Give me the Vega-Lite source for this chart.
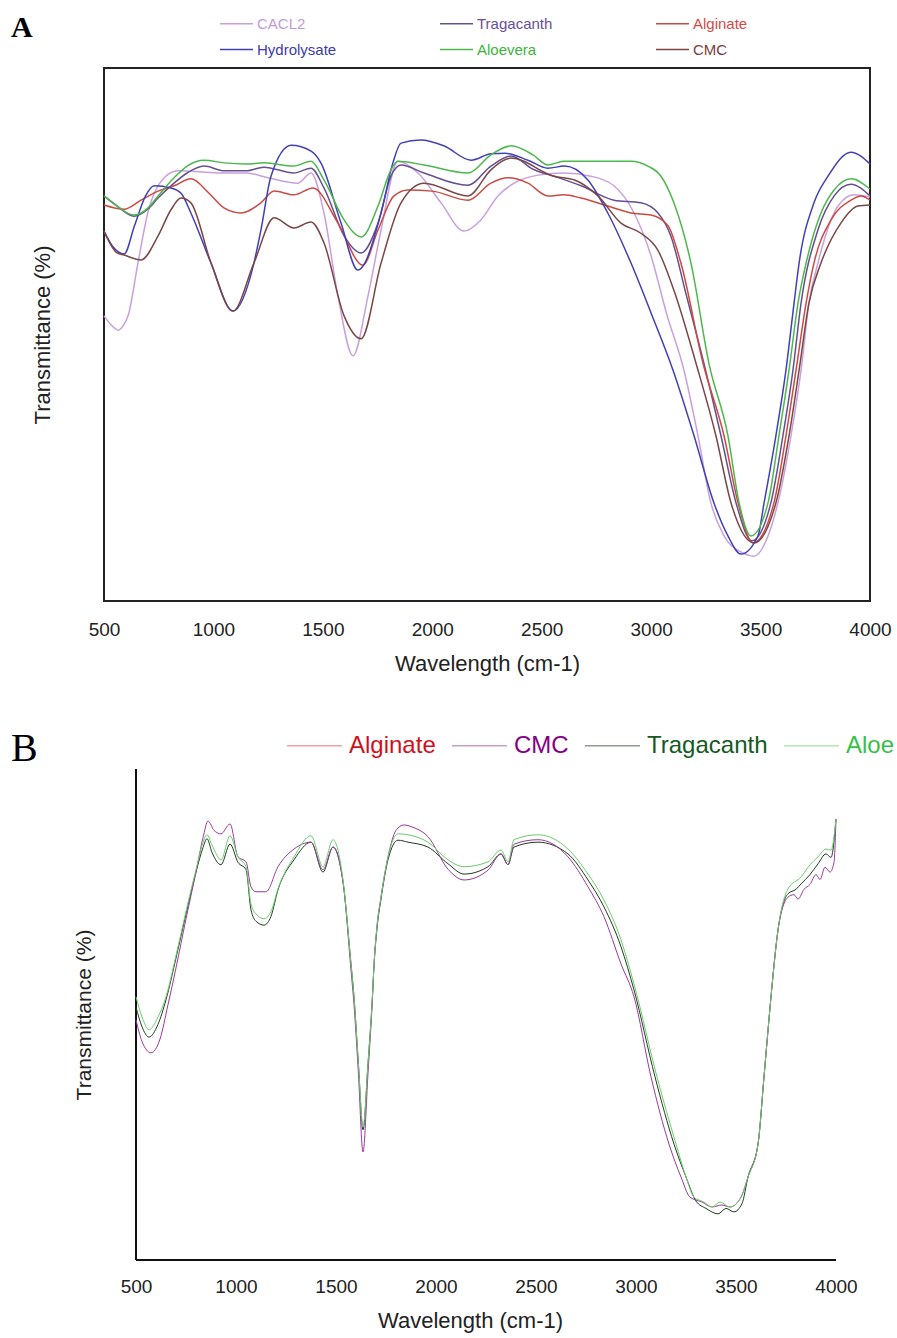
{
"$schema":"https://vega.github.io/schema/vega-lite/v6.json",
"padding":{"left":10,"top":5,"right":0,"bottom":7},
"config":{"view":{"stroke":null},"font":"Liberation Sans","axis":{"grid":false}},
"datasets":{
"a":[
{"series":"CACL2","wavenumber":500,"transmittance":53.5},{"series":"CACL2","wavenumber":540,"transmittance":51.5},{"series":"CACL2","wavenumber":564,"transmittance":50.8},{"series":"CACL2","wavenumber":590,"transmittance":51.8},{"series":"CACL2","wavenumber":610,"transmittance":53.5},{"series":"CACL2","wavenumber":655,"transmittance":63.4},{"series":"CACL2","wavenumber":700,"transmittance":72.8},{"series":"CACL2","wavenumber":775,"transmittance":79.4},{"series":"CACL2","wavenumber":838,"transmittance":80.7},{"series":"CACL2","wavenumber":950,"transmittance":80.5},{"series":"CACL2","wavenumber":1050,"transmittance":80.3},{"series":"CACL2","wavenumber":1150,"transmittance":80.3},{"series":"CACL2","wavenumber":1250,"transmittance":79.4},{"series":"CACL2","wavenumber":1386,"transmittance":78.4},{"series":"CACL2","wavenumber":1446,"transmittance":80.3},{"series":"CACL2","wavenumber":1505,"transmittance":72.8},{"series":"CACL2","wavenumber":1569,"transmittance":57.2},{"series":"CACL2","wavenumber":1638,"transmittance":46.0},{"series":"CACL2","wavenumber":1706,"transmittance":57.2},{"series":"CACL2","wavenumber":1766,"transmittance":69.6},{"series":"CACL2","wavenumber":1843,"transmittance":82.5},{"series":"CACL2","wavenumber":1935,"transmittance":80.3},{"series":"CACL2","wavenumber":2040,"transmittance":74.7},{"series":"CACL2","wavenumber":2145,"transmittance":69.4},{"series":"CACL2","wavenumber":2222,"transmittance":71.5},{"series":"CACL2","wavenumber":2300,"transmittance":76.0},{"series":"CACL2","wavenumber":2374,"transmittance":78.4},{"series":"CACL2","wavenumber":2483,"transmittance":79.9},{"series":"CACL2","wavenumber":2602,"transmittance":80.3},{"series":"CACL2","wavenumber":2725,"transmittance":79.7},{"series":"CACL2","wavenumber":2830,"transmittance":77.9},{"series":"CACL2","wavenumber":2922,"transmittance":72.8},{"series":"CACL2","wavenumber":3000,"transmittance":64.7},{"series":"CACL2","wavenumber":3070,"transmittance":54.0},{"series":"CACL2","wavenumber":3150,"transmittance":43.3},{"series":"CACL2","wavenumber":3214,"transmittance":31.0},{"series":"CACL2","wavenumber":3273,"transmittance":18.4},{"series":"CACL2","wavenumber":3333,"transmittance":12.2},{"series":"CACL2","wavenumber":3410,"transmittance":9.2},{"series":"CACL2","wavenumber":3470,"transmittance":8.4},{"series":"CACL2","wavenumber":3534,"transmittance":12.2},{"series":"CACL2","wavenumber":3579,"transmittance":18.4},{"series":"CACL2","wavenumber":3639,"transmittance":31.0},{"series":"CACL2","wavenumber":3685,"transmittance":43.3},{"series":"CACL2","wavenumber":3721,"transmittance":55.9},{"series":"CACL2","wavenumber":3762,"transmittance":63.4},{"series":"CACL2","wavenumber":3854,"transmittance":74.1},{"series":"CACL2","wavenumber":3927,"transmittance":76.2},{"series":"CACL2","wavenumber":4000,"transmittance":75.8},
{"series":"Tragacanth","wavenumber":500,"transmittance":76.0},{"series":"Tragacanth","wavenumber":560,"transmittance":74.1},{"series":"Tragacanth","wavenumber":637,"transmittance":72.2},{"series":"Tragacanth","wavenumber":700,"transmittance":73.5},{"series":"Tragacanth","wavenumber":747,"transmittance":75.6},{"series":"Tragacanth","wavenumber":820,"transmittance":78.4},{"series":"Tragacanth","wavenumber":880,"transmittance":80.3},{"series":"Tragacanth","wavenumber":957,"transmittance":81.6},{"series":"Tragacanth","wavenumber":1050,"transmittance":80.7},{"series":"Tragacanth","wavenumber":1150,"transmittance":80.7},{"series":"Tragacanth","wavenumber":1231,"transmittance":81.4},{"series":"Tragacanth","wavenumber":1368,"transmittance":80.3},{"series":"Tragacanth","wavenumber":1446,"transmittance":81.2},{"series":"Tragacanth","wavenumber":1505,"transmittance":77.5},{"series":"Tragacanth","wavenumber":1597,"transmittance":68.5},{"series":"Tragacanth","wavenumber":1675,"transmittance":65.3},{"series":"Tragacanth","wavenumber":1752,"transmittance":70.9},{"series":"Tragacanth","wavenumber":1811,"transmittance":79.7},{"series":"Tragacanth","wavenumber":1857,"transmittance":81.8},{"series":"Tragacanth","wavenumber":1962,"transmittance":80.3},{"series":"Tragacanth","wavenumber":2163,"transmittance":78.0},{"series":"Tragacanth","wavenumber":2268,"transmittance":81.6},{"series":"Tragacanth","wavenumber":2360,"transmittance":83.5},{"series":"Tragacanth","wavenumber":2460,"transmittance":81.0},{"series":"Tragacanth","wavenumber":2556,"transmittance":79.7},{"series":"Tragacanth","wavenumber":2680,"transmittance":77.9},{"series":"Tragacanth","wavenumber":2830,"transmittance":75.2},{"series":"Tragacanth","wavenumber":2953,"transmittance":74.7},{"series":"Tragacanth","wavenumber":3031,"transmittance":72.8},{"series":"Tragacanth","wavenumber":3090,"transmittance":68.5},{"series":"Tragacanth","wavenumber":3160,"transmittance":57.5},{"series":"Tragacanth","wavenumber":3241,"transmittance":44.6},{"series":"Tragacanth","wavenumber":3319,"transmittance":31.0},{"series":"Tragacanth","wavenumber":3388,"transmittance":18.4},{"series":"Tragacanth","wavenumber":3460,"transmittance":11.3},{"series":"Tragacanth","wavenumber":3547,"transmittance":18.4},{"series":"Tragacanth","wavenumber":3602,"transmittance":31.0},{"series":"Tragacanth","wavenumber":3648,"transmittance":43.3},{"series":"Tragacanth","wavenumber":3685,"transmittance":55.9},{"series":"Tragacanth","wavenumber":3762,"transmittance":69.6},{"series":"Tragacanth","wavenumber":3836,"transmittance":76.0},{"series":"Tragacanth","wavenumber":3913,"transmittance":78.2},{"series":"Tragacanth","wavenumber":4000,"transmittance":76.0},
{"series":"Alginate","wavenumber":500,"transmittance":74.3},{"series":"Alginate","wavenumber":592,"transmittance":73.5},{"series":"Alginate","wavenumber":669,"transmittance":75.2},{"series":"Alginate","wavenumber":747,"transmittance":76.9},{"series":"Alginate","wavenumber":820,"transmittance":77.9},{"series":"Alginate","wavenumber":897,"transmittance":79.2},{"series":"Alginate","wavenumber":980,"transmittance":76.5},{"series":"Alginate","wavenumber":1050,"transmittance":73.7},{"series":"Alginate","wavenumber":1126,"transmittance":72.8},{"series":"Alginate","wavenumber":1217,"transmittance":74.7},{"series":"Alginate","wavenumber":1277,"transmittance":76.9},{"series":"Alginate","wavenumber":1368,"transmittance":76.2},{"series":"Alginate","wavenumber":1455,"transmittance":77.5},{"series":"Alginate","wavenumber":1569,"transmittance":70.9},{"series":"Alginate","wavenumber":1683,"transmittance":63.0},{"series":"Alginate","wavenumber":1752,"transmittance":69.6},{"series":"Alginate","wavenumber":1825,"transmittance":76.0},{"series":"Alginate","wavenumber":1889,"transmittance":77.1},{"series":"Alginate","wavenumber":2000,"transmittance":76.9},{"series":"Alginate","wavenumber":2163,"transmittance":75.2},{"series":"Alginate","wavenumber":2268,"transmittance":78.4},{"series":"Alginate","wavenumber":2346,"transmittance":79.4},{"series":"Alginate","wavenumber":2437,"transmittance":78.4},{"series":"Alginate","wavenumber":2528,"transmittance":76.0},{"series":"Alginate","wavenumber":2600,"transmittance":76.2},{"series":"Alginate","wavenumber":2680,"transmittance":75.6},{"series":"Alginate","wavenumber":2802,"transmittance":74.1},{"series":"Alginate","wavenumber":2908,"transmittance":72.8},{"series":"Alginate","wavenumber":3000,"transmittance":72.4},{"series":"Alginate","wavenumber":3077,"transmittance":70.4},{"series":"Alginate","wavenumber":3136,"transmittance":63.4},{"series":"Alginate","wavenumber":3237,"transmittance":44.6},{"series":"Alginate","wavenumber":3333,"transmittance":31.0},{"series":"Alginate","wavenumber":3397,"transmittance":18.4},{"series":"Alginate","wavenumber":3466,"transmittance":10.9},{"series":"Alginate","wavenumber":3561,"transmittance":18.4},{"series":"Alginate","wavenumber":3616,"transmittance":31.0},{"series":"Alginate","wavenumber":3662,"transmittance":43.3},{"series":"Alginate","wavenumber":3708,"transmittance":55.9},{"series":"Alginate","wavenumber":3744,"transmittance":63.4},{"series":"Alginate","wavenumber":3822,"transmittance":71.5},{"series":"Alginate","wavenumber":3913,"transmittance":75.2},{"series":"Alginate","wavenumber":3959,"transmittance":76.0},{"series":"Alginate","wavenumber":4000,"transmittance":75.2},
{"series":"Hydrolysate","wavenumber":500,"transmittance":69.4},{"series":"Hydrolysate","wavenumber":540,"transmittance":66.5},{"series":"Hydrolysate","wavenumber":592,"transmittance":65.1},{"series":"Hydrolysate","wavenumber":640,"transmittance":70.5},{"series":"Hydrolysate","wavenumber":690,"transmittance":76.0},{"series":"Hydrolysate","wavenumber":729,"transmittance":77.9},{"series":"Hydrolysate","wavenumber":806,"transmittance":77.5},{"series":"Hydrolysate","wavenumber":852,"transmittance":76.5},{"series":"Hydrolysate","wavenumber":897,"transmittance":72.8},{"series":"Hydrolysate","wavenumber":989,"transmittance":63.4},{"series":"Hydrolysate","wavenumber":1089,"transmittance":54.4},{"series":"Hydrolysate","wavenumber":1185,"transmittance":63.4},{"series":"Hydrolysate","wavenumber":1217,"transmittance":69.6},{"series":"Hydrolysate","wavenumber":1263,"transmittance":79.7},{"series":"Hydrolysate","wavenumber":1355,"transmittance":85.5},{"series":"Hydrolysate","wavenumber":1446,"transmittance":84.4},{"series":"Hydrolysate","wavenumber":1491,"transmittance":82.2},{"series":"Hydrolysate","wavenumber":1583,"transmittance":70.9},{"series":"Hydrolysate","wavenumber":1660,"transmittance":62.1},{"series":"Hydrolysate","wavenumber":1766,"transmittance":72.8},{"series":"Hydrolysate","wavenumber":1820,"transmittance":82.2},{"series":"Hydrolysate","wavenumber":1857,"transmittance":85.9},{"series":"Hydrolysate","wavenumber":1948,"transmittance":86.5},{"series":"Hydrolysate","wavenumber":2053,"transmittance":85.4},{"series":"Hydrolysate","wavenumber":2177,"transmittance":82.7},{"series":"Hydrolysate","wavenumber":2268,"transmittance":83.9},{"series":"Hydrolysate","wavenumber":2333,"transmittance":84.0},{"series":"Hydrolysate","wavenumber":2437,"transmittance":82.7},{"series":"Hydrolysate","wavenumber":2528,"transmittance":81.2},{"series":"Hydrolysate","wavenumber":2604,"transmittance":81.6},{"series":"Hydrolysate","wavenumber":2711,"transmittance":79.0},{"series":"Hydrolysate","wavenumber":2802,"transmittance":72.8},{"series":"Hydrolysate","wavenumber":2908,"transmittance":63.4},{"series":"Hydrolysate","wavenumber":3000,"transmittance":54.0},{"series":"Hydrolysate","wavenumber":3100,"transmittance":43.3},{"series":"Hydrolysate","wavenumber":3196,"transmittance":31.0},{"series":"Hydrolysate","wavenumber":3287,"transmittance":18.4},{"series":"Hydrolysate","wavenumber":3351,"transmittance":12.2},{"series":"Hydrolysate","wavenumber":3410,"transmittance":8.8},{"series":"Hydrolysate","wavenumber":3488,"transmittance":12.2},{"series":"Hydrolysate","wavenumber":3516,"transmittance":18.4},{"series":"Hydrolysate","wavenumber":3570,"transmittance":31.0},{"series":"Hydrolysate","wavenumber":3616,"transmittance":43.3},{"series":"Hydrolysate","wavenumber":3653,"transmittance":55.9},{"series":"Hydrolysate","wavenumber":3676,"transmittance":63.4},{"series":"Hydrolysate","wavenumber":3744,"transmittance":74.7},{"series":"Hydrolysate","wavenumber":3808,"transmittance":79.7},{"series":"Hydrolysate","wavenumber":3913,"transmittance":84.2},{"series":"Hydrolysate","wavenumber":4000,"transmittance":82.0},
{"series":"Aloevera","wavenumber":500,"transmittance":76.0},{"series":"Aloevera","wavenumber":560,"transmittance":74.1},{"series":"Aloevera","wavenumber":637,"transmittance":72.4},{"series":"Aloevera","wavenumber":700,"transmittance":73.7},{"series":"Aloevera","wavenumber":747,"transmittance":76.0},{"series":"Aloevera","wavenumber":820,"transmittance":79.4},{"series":"Aloevera","wavenumber":880,"transmittance":81.6},{"series":"Aloevera","wavenumber":957,"transmittance":82.7},{"series":"Aloevera","wavenumber":1050,"transmittance":82.2},{"series":"Aloevera","wavenumber":1150,"transmittance":82.0},{"series":"Aloevera","wavenumber":1231,"transmittance":82.2},{"series":"Aloevera","wavenumber":1368,"transmittance":81.6},{"series":"Aloevera","wavenumber":1446,"transmittance":82.5},{"series":"Aloevera","wavenumber":1505,"transmittance":79.0},{"series":"Aloevera","wavenumber":1597,"transmittance":71.5},{"series":"Aloevera","wavenumber":1675,"transmittance":68.3},{"series":"Aloevera","wavenumber":1752,"transmittance":74.1},{"series":"Aloevera","wavenumber":1811,"transmittance":80.9},{"series":"Aloevera","wavenumber":1843,"transmittance":82.5},{"series":"Aloevera","wavenumber":1962,"transmittance":81.8},{"series":"Aloevera","wavenumber":2163,"transmittance":80.3},{"series":"Aloevera","wavenumber":2268,"transmittance":83.7},{"series":"Aloevera","wavenumber":2360,"transmittance":85.4},{"series":"Aloevera","wavenumber":2460,"transmittance":83.7},{"series":"Aloevera","wavenumber":2528,"transmittance":81.8},{"series":"Aloevera","wavenumber":2600,"transmittance":82.5},{"series":"Aloevera","wavenumber":2750,"transmittance":82.5},{"series":"Aloevera","wavenumber":2908,"transmittance":82.5},{"series":"Aloevera","wavenumber":2985,"transmittance":81.6},{"series":"Aloevera","wavenumber":3045,"transmittance":79.7},{"series":"Aloevera","wavenumber":3104,"transmittance":74.7},{"series":"Aloevera","wavenumber":3182,"transmittance":63.4},{"series":"Aloevera","wavenumber":3264,"transmittance":44.6},{"series":"Aloevera","wavenumber":3351,"transmittance":31.0},{"series":"Aloevera","wavenumber":3402,"transmittance":18.4},{"series":"Aloevera","wavenumber":3456,"transmittance":12.2},{"series":"Aloevera","wavenumber":3534,"transmittance":18.4},{"series":"Aloevera","wavenumber":3584,"transmittance":31.0},{"series":"Aloevera","wavenumber":3630,"transmittance":43.3},{"series":"Aloevera","wavenumber":3671,"transmittance":55.9},{"series":"Aloevera","wavenumber":3708,"transmittance":63.4},{"series":"Aloevera","wavenumber":3776,"transmittance":72.8},{"series":"Aloevera","wavenumber":3836,"transmittance":77.1},{"series":"Aloevera","wavenumber":3913,"transmittance":79.2},{"series":"Aloevera","wavenumber":4000,"transmittance":77.3},
{"series":"CMC","wavenumber":500,"transmittance":69.4},{"series":"CMC","wavenumber":560,"transmittance":65.3},{"series":"CMC","wavenumber":592,"transmittance":64.9},{"series":"CMC","wavenumber":670,"transmittance":64.0},{"series":"CMC","wavenumber":747,"transmittance":68.5},{"series":"CMC","wavenumber":806,"transmittance":73.4},{"series":"CMC","wavenumber":852,"transmittance":75.6},{"series":"CMC","wavenumber":897,"transmittance":74.7},{"series":"CMC","wavenumber":989,"transmittance":63.4},{"series":"CMC","wavenumber":1089,"transmittance":54.4},{"series":"CMC","wavenumber":1185,"transmittance":63.4},{"series":"CMC","wavenumber":1277,"transmittance":71.9},{"series":"CMC","wavenumber":1368,"transmittance":70.0},{"series":"CMC","wavenumber":1446,"transmittance":71.1},{"series":"CMC","wavenumber":1505,"transmittance":67.2},{"series":"CMC","wavenumber":1597,"transmittance":53.5},{"series":"CMC","wavenumber":1675,"transmittance":49.2},{"series":"CMC","wavenumber":1766,"transmittance":63.4},{"series":"CMC","wavenumber":1857,"transmittance":74.7},{"series":"CMC","wavenumber":1962,"transmittance":78.4},{"series":"CMC","wavenumber":2163,"transmittance":76.0},{"series":"CMC","wavenumber":2268,"transmittance":80.9},{"series":"CMC","wavenumber":2360,"transmittance":83.1},{"series":"CMC","wavenumber":2556,"transmittance":79.7},{"series":"CMC","wavenumber":2650,"transmittance":79.0},{"series":"CMC","wavenumber":2757,"transmittance":76.0},{"series":"CMC","wavenumber":2862,"transmittance":70.9},{"series":"CMC","wavenumber":2953,"transmittance":69.0},{"series":"CMC","wavenumber":3031,"transmittance":65.8},{"series":"CMC","wavenumber":3104,"transmittance":58.3},{"series":"CMC","wavenumber":3205,"transmittance":44.6},{"series":"CMC","wavenumber":3296,"transmittance":31.0},{"series":"CMC","wavenumber":3365,"transmittance":18.4},{"series":"CMC","wavenumber":3470,"transmittance":10.9},{"series":"CMC","wavenumber":3570,"transmittance":18.4},{"series":"CMC","wavenumber":3630,"transmittance":31.0},{"series":"CMC","wavenumber":3676,"transmittance":43.3},{"series":"CMC","wavenumber":3721,"transmittance":55.9},{"series":"CMC","wavenumber":3776,"transmittance":63.4},{"series":"CMC","wavenumber":3867,"transmittance":70.9},{"series":"CMC","wavenumber":3945,"transmittance":74.1},{"series":"CMC","wavenumber":4000,"transmittance":74.3}
],
"b":[
{"series":"Tragacanth","wavenumber":500,"transmittance":51.5},{"series":"Tragacanth","wavenumber":530,"transmittance":47.5},{"series":"Tragacanth","wavenumber":565,"transmittance":45.4},{"series":"Tragacanth","wavenumber":610,"transmittance":48.0},{"series":"Tragacanth","wavenumber":650,"transmittance":53.0},{"series":"Tragacanth","wavenumber":700,"transmittance":61.5},{"series":"Tragacanth","wavenumber":750,"transmittance":70.5},{"series":"Tragacanth","wavenumber":800,"transmittance":79.0},{"series":"Tragacanth","wavenumber":835,"transmittance":84.0},{"series":"Tragacanth","wavenumber":855,"transmittance":85.8},{"series":"Tragacanth","wavenumber":880,"transmittance":83.0},{"series":"Tragacanth","wavenumber":925,"transmittance":80.5},{"series":"Tragacanth","wavenumber":970,"transmittance":84.7},{"series":"Tragacanth","wavenumber":1010,"transmittance":81.0},{"series":"Tragacanth","wavenumber":1050,"transmittance":79.5},{"series":"Tragacanth","wavenumber":1075,"transmittance":71.3},{"series":"Tragacanth","wavenumber":1100,"transmittance":69.0},{"series":"Tragacanth","wavenumber":1140,"transmittance":68.2},{"series":"Tragacanth","wavenumber":1175,"transmittance":70.0},{"series":"Tragacanth","wavenumber":1210,"transmittance":75.4},{"series":"Tragacanth","wavenumber":1290,"transmittance":81.5},{"series":"Tragacanth","wavenumber":1375,"transmittance":85.1},{"series":"Tragacanth","wavenumber":1435,"transmittance":79.0},{"series":"Tragacanth","wavenumber":1485,"transmittance":84.1},{"series":"Tragacanth","wavenumber":1535,"transmittance":77.0},{"series":"Tragacanth","wavenumber":1575,"transmittance":60.3},{"series":"Tragacanth","wavenumber":1590,"transmittance":53.6},{"series":"Tragacanth","wavenumber":1612,"transmittance":40.0},{"series":"Tragacanth","wavenumber":1635,"transmittance":26.5},{"series":"Tragacanth","wavenumber":1660,"transmittance":40.0},{"series":"Tragacanth","wavenumber":1682,"transmittance":53.6},{"series":"Tragacanth","wavenumber":1690,"transmittance":60.0},{"series":"Tragacanth","wavenumber":1705,"transmittance":67.5},{"series":"Tragacanth","wavenumber":1725,"transmittance":73.5},{"series":"Tragacanth","wavenumber":1760,"transmittance":81.5},{"series":"Tragacanth","wavenumber":1810,"transmittance":85.5},{"series":"Tragacanth","wavenumber":1860,"transmittance":85.1},{"series":"Tragacanth","wavenumber":1960,"transmittance":84.1},{"series":"Tragacanth","wavenumber":2060,"transmittance":80.7},{"series":"Tragacanth","wavenumber":2140,"transmittance":78.6},{"series":"Tragacanth","wavenumber":2260,"transmittance":80.1},{"series":"Tragacanth","wavenumber":2325,"transmittance":82.7},{"series":"Tragacanth","wavenumber":2360,"transmittance":80.5},{"series":"Tragacanth","wavenumber":2390,"transmittance":84.1},{"series":"Tragacanth","wavenumber":2510,"transmittance":85.1},{"series":"Tragacanth","wavenumber":2660,"transmittance":82.7},{"series":"Tragacanth","wavenumber":2760,"transmittance":77.4},{"series":"Tragacanth","wavenumber":2840,"transmittance":71.9},{"series":"Tragacanth","wavenumber":2925,"transmittance":63.8},{"series":"Tragacanth","wavenumber":2990,"transmittance":55.0},{"series":"Tragacanth","wavenumber":3095,"transmittance":37.3},{"series":"Tragacanth","wavenumber":3190,"transmittance":23.6},{"series":"Tragacanth","wavenumber":3250,"transmittance":16.9},{"series":"Tragacanth","wavenumber":3300,"transmittance":12.0},{"series":"Tragacanth","wavenumber":3350,"transmittance":10.5},{"series":"Tragacanth","wavenumber":3410,"transmittance":9.4},{"series":"Tragacanth","wavenumber":3450,"transmittance":10.5},{"series":"Tragacanth","wavenumber":3490,"transmittance":9.8},{"series":"Tragacanth","wavenumber":3530,"transmittance":11.5},{"series":"Tragacanth","wavenumber":3560,"transmittance":16.9},{"series":"Tragacanth","wavenumber":3610,"transmittance":23.6},{"series":"Tragacanth","wavenumber":3640,"transmittance":37.3},{"series":"Tragacanth","wavenumber":3675,"transmittance":53.6},{"series":"Tragacanth","wavenumber":3710,"transmittance":67.2},{"series":"Tragacanth","wavenumber":3760,"transmittance":74.6},{"series":"Tragacanth","wavenumber":3800,"transmittance":75.5},{"series":"Tragacanth","wavenumber":3825,"transmittance":76.6},{"series":"Tragacanth","wavenumber":3870,"transmittance":78.5},{"series":"Tragacanth","wavenumber":3910,"transmittance":80.7},{"series":"Tragacanth","wavenumber":3950,"transmittance":82.7},{"series":"Tragacanth","wavenumber":3975,"transmittance":82.0},{"series":"Tragacanth","wavenumber":4000,"transmittance":89.8},
{"series":"CMC","wavenumber":500,"transmittance":48.9},{"series":"CMC","wavenumber":530,"transmittance":44.5},{"series":"CMC","wavenumber":575,"transmittance":42.2},{"series":"CMC","wavenumber":620,"transmittance":45.0},{"series":"CMC","wavenumber":660,"transmittance":52.0},{"series":"CMC","wavenumber":700,"transmittance":59.5},{"series":"CMC","wavenumber":750,"transmittance":69.5},{"series":"CMC","wavenumber":800,"transmittance":79.0},{"series":"CMC","wavenumber":835,"transmittance":86.0},{"series":"CMC","wavenumber":860,"transmittance":89.4},{"series":"CMC","wavenumber":890,"transmittance":87.5},{"series":"CMC","wavenumber":925,"transmittance":86.8},{"series":"CMC","wavenumber":970,"transmittance":88.8},{"series":"CMC","wavenumber":1010,"transmittance":82.1},{"series":"CMC","wavenumber":1050,"transmittance":81.1},{"series":"CMC","wavenumber":1075,"transmittance":76.0},{"series":"CMC","wavenumber":1100,"transmittance":75.0},{"series":"CMC","wavenumber":1150,"transmittance":75.0},{"series":"CMC","wavenumber":1210,"transmittance":80.1},{"series":"CMC","wavenumber":1290,"transmittance":83.7},{"series":"CMC","wavenumber":1375,"transmittance":85.1},{"series":"CMC","wavenumber":1435,"transmittance":79.5},{"series":"CMC","wavenumber":1485,"transmittance":84.1},{"series":"CMC","wavenumber":1535,"transmittance":77.0},{"series":"CMC","wavenumber":1575,"transmittance":59.0},{"series":"CMC","wavenumber":1590,"transmittance":52.0},{"series":"CMC","wavenumber":1612,"transmittance":38.0},{"series":"CMC","wavenumber":1635,"transmittance":22.0},{"series":"CMC","wavenumber":1660,"transmittance":38.0},{"series":"CMC","wavenumber":1682,"transmittance":53.0},{"series":"CMC","wavenumber":1690,"transmittance":60.0},{"series":"CMC","wavenumber":1705,"transmittance":68.0},{"series":"CMC","wavenumber":1725,"transmittance":73.9},{"series":"CMC","wavenumber":1760,"transmittance":82.1},{"series":"CMC","wavenumber":1800,"transmittance":87.5},{"series":"CMC","wavenumber":1840,"transmittance":88.6},{"series":"CMC","wavenumber":1880,"transmittance":88.2},{"series":"CMC","wavenumber":1960,"transmittance":86.2},{"series":"CMC","wavenumber":2060,"transmittance":79.6},{"series":"CMC","wavenumber":2140,"transmittance":77.4},{"series":"CMC","wavenumber":2260,"transmittance":79.4},{"series":"CMC","wavenumber":2325,"transmittance":82.7},{"series":"CMC","wavenumber":2360,"transmittance":80.5},{"series":"CMC","wavenumber":2390,"transmittance":84.7},{"series":"CMC","wavenumber":2510,"transmittance":85.6},{"series":"CMC","wavenumber":2660,"transmittance":82.1},{"series":"CMC","wavenumber":2760,"transmittance":76.0},{"series":"CMC","wavenumber":2840,"transmittance":69.9},{"series":"CMC","wavenumber":2925,"transmittance":60.3},{"series":"CMC","wavenumber":2990,"transmittance":53.6},{"series":"CMC","wavenumber":3075,"transmittance":37.3},{"series":"CMC","wavenumber":3165,"transmittance":23.6},{"series":"CMC","wavenumber":3225,"transmittance":16.9},{"series":"CMC","wavenumber":3270,"transmittance":12.8},{"series":"CMC","wavenumber":3330,"transmittance":11.8},{"series":"CMC","wavenumber":3380,"transmittance":10.8},{"series":"CMC","wavenumber":3430,"transmittance":11.2},{"series":"CMC","wavenumber":3470,"transmittance":10.8},{"series":"CMC","wavenumber":3525,"transmittance":12.8},{"series":"CMC","wavenumber":3560,"transmittance":16.9},{"series":"CMC","wavenumber":3610,"transmittance":23.6},{"series":"CMC","wavenumber":3640,"transmittance":37.3},{"series":"CMC","wavenumber":3675,"transmittance":53.6},{"series":"CMC","wavenumber":3710,"transmittance":67.2},{"series":"CMC","wavenumber":3760,"transmittance":73.9},{"series":"CMC","wavenumber":3790,"transmittance":74.4},{"series":"CMC","wavenumber":3810,"transmittance":73.5},{"series":"CMC","wavenumber":3840,"transmittance":75.5},{"series":"CMC","wavenumber":3870,"transmittance":76.5},{"series":"CMC","wavenumber":3900,"transmittance":78.5},{"series":"CMC","wavenumber":3920,"transmittance":77.5},{"series":"CMC","wavenumber":3945,"transmittance":80.0},{"series":"CMC","wavenumber":3970,"transmittance":79.0},{"series":"CMC","wavenumber":3990,"transmittance":81.0},{"series":"CMC","wavenumber":4000,"transmittance":89.8},
{"series":"Aloe","wavenumber":500,"transmittance":53.6},{"series":"Aloe","wavenumber":530,"transmittance":49.5},{"series":"Aloe","wavenumber":565,"transmittance":46.9},{"series":"Aloe","wavenumber":610,"transmittance":49.5},{"series":"Aloe","wavenumber":650,"transmittance":53.6},{"series":"Aloe","wavenumber":700,"transmittance":62.0},{"series":"Aloe","wavenumber":750,"transmittance":71.0},{"series":"Aloe","wavenumber":800,"transmittance":79.5},{"series":"Aloe","wavenumber":835,"transmittance":85.0},{"series":"Aloe","wavenumber":855,"transmittance":86.6},{"series":"Aloe","wavenumber":880,"transmittance":84.5},{"series":"Aloe","wavenumber":925,"transmittance":81.5},{"series":"Aloe","wavenumber":970,"transmittance":86.4},{"series":"Aloe","wavenumber":1010,"transmittance":82.1},{"series":"Aloe","wavenumber":1050,"transmittance":80.1},{"series":"Aloe","wavenumber":1075,"transmittance":72.5},{"series":"Aloe","wavenumber":1100,"transmittance":70.5},{"series":"Aloe","wavenumber":1140,"transmittance":69.5},{"series":"Aloe","wavenumber":1175,"transmittance":71.0},{"series":"Aloe","wavenumber":1210,"transmittance":75.6},{"series":"Aloe","wavenumber":1290,"transmittance":82.1},{"series":"Aloe","wavenumber":1375,"transmittance":86.4},{"series":"Aloe","wavenumber":1435,"transmittance":80.1},{"series":"Aloe","wavenumber":1485,"transmittance":85.6},{"series":"Aloe","wavenumber":1535,"transmittance":77.4},{"series":"Aloe","wavenumber":1575,"transmittance":60.3},{"series":"Aloe","wavenumber":1590,"transmittance":53.6},{"series":"Aloe","wavenumber":1612,"transmittance":40.0},{"series":"Aloe","wavenumber":1635,"transmittance":27.1},{"series":"Aloe","wavenumber":1660,"transmittance":40.0},{"series":"Aloe","wavenumber":1682,"transmittance":53.6},{"series":"Aloe","wavenumber":1690,"transmittance":60.0},{"series":"Aloe","wavenumber":1705,"transmittance":68.0},{"series":"Aloe","wavenumber":1725,"transmittance":73.9},{"series":"Aloe","wavenumber":1760,"transmittance":82.1},{"series":"Aloe","wavenumber":1810,"transmittance":86.8},{"series":"Aloe","wavenumber":1860,"transmittance":86.6},{"series":"Aloe","wavenumber":1960,"transmittance":85.1},{"series":"Aloe","wavenumber":2060,"transmittance":81.5},{"series":"Aloe","wavenumber":2140,"transmittance":80.1},{"series":"Aloe","wavenumber":2260,"transmittance":81.1},{"series":"Aloe","wavenumber":2325,"transmittance":83.5},{"series":"Aloe","wavenumber":2360,"transmittance":81.1},{"series":"Aloe","wavenumber":2390,"transmittance":85.6},{"series":"Aloe","wavenumber":2510,"transmittance":86.6},{"series":"Aloe","wavenumber":2660,"transmittance":83.7},{"series":"Aloe","wavenumber":2760,"transmittance":78.6},{"series":"Aloe","wavenumber":2840,"transmittance":73.3},{"series":"Aloe","wavenumber":2925,"transmittance":65.2},{"series":"Aloe","wavenumber":2990,"transmittance":56.2},{"series":"Aloe","wavenumber":3105,"transmittance":37.3},{"series":"Aloe","wavenumber":3200,"transmittance":23.6},{"series":"Aloe","wavenumber":3250,"transmittance":16.9},{"series":"Aloe","wavenumber":3290,"transmittance":12.8},{"series":"Aloe","wavenumber":3340,"transmittance":11.8},{"series":"Aloe","wavenumber":3380,"transmittance":10.8},{"series":"Aloe","wavenumber":3420,"transmittance":11.8},{"series":"Aloe","wavenumber":3470,"transmittance":10.8},{"series":"Aloe","wavenumber":3525,"transmittance":12.8},{"series":"Aloe","wavenumber":3560,"transmittance":16.9},{"series":"Aloe","wavenumber":3610,"transmittance":23.6},{"series":"Aloe","wavenumber":3640,"transmittance":37.3},{"series":"Aloe","wavenumber":3675,"transmittance":53.6},{"series":"Aloe","wavenumber":3710,"transmittance":67.2},{"series":"Aloe","wavenumber":3760,"transmittance":75.6},{"series":"Aloe","wavenumber":3825,"transmittance":78.0},{"series":"Aloe","wavenumber":3870,"transmittance":80.5},{"series":"Aloe","wavenumber":3910,"transmittance":82.1},{"series":"Aloe","wavenumber":3950,"transmittance":83.7},{"series":"Aloe","wavenumber":3975,"transmittance":83.5},{"series":"Aloe","wavenumber":4000,"transmittance":89.8}
]},
"vconcat":[
{
"width":766,"height":533,
"data":{"name":"a"},
"title":{"text":"A","anchor":"start","frame":"group","dx":-93,"dy":47,"font":"Liberation Serif","fontSize":30,"fontWeight":"bold","color":"#000","offset":10},
"view":{"stroke":"#222","strokeWidth":2},
"mark":{"type":"line","interpolate":"monotone","strokeWidth":1.5},
"encoding":{
"x":{"field":"wavenumber","type":"quantitative","scale":{"domain":[500,4000],"nice":false,"zero":false},
"axis":{"values":[500,1000,1500,2000,2500,3000,3500,4000],"format":"d","ticks":false,"domain":false,"grid":false,"labelFontSize":19,"labelPadding":19,"labelColor":"#222","labelFlush":false,"labelOverlap":false,"title":"Wavelength (cm-1)","titleFontSize":22,"titleFontWeight":"normal","titleColor":"#222","titlePadding":14}},
"y":{"field":"transmittance","type":"quantitative","scale":{"domain":[0,100],"nice":false},
"axis":{"labels":false,"ticks":false,"domain":false,"grid":false,"title":"Transmittance (%)","titleFontSize":22,"titleFontWeight":"normal","titleColor":"#222","titlePadding":50}},
"color":{"field":"series","type":"nominal",
"scale":{"domain":["CACL2","Tragacanth","Alginate","Hydrolysate","Aloevera","CMC"],"range":["#c9a0dc","#65508f","#cc4a42","#4040b8","#4cb84c","#7b4646"]},
"legend":{"orient":"none","legendX":115,"legendY":-62,"direction":"horizontal","columns":3,"columnPadding":100,"rowPadding":-8,"title":null,"symbolType":"stroke","symbolSize":1089,"symbolStrokeWidth":1.5,"labelFontSize":15,"labelOffset":3,
"labelColor":{"expr":"datum.value === 'CACL2' ? '#c49ad6' : datum.value === 'Tragacanth' ? '#67509a' : datum.value === 'Alginate' ? '#d44a44' : datum.value === 'Hydrolysate' ? '#3c3caa' : datum.value === 'Aloevera' ? '#3cb43c' : '#7a3c3c'"}}}
}
},
{
"width":732,"height":491,
"data":{"name":"b"},
"title":{"text":"B","anchor":"start","frame":"group","dx":-93,"dy":62,"font":"Liberation Serif","fontSize":40,"fontWeight":"normal","color":"#000","offset":10},
"layer":[
{
"mark":{"type":"rule","color":"#111","strokeWidth":2},
"encoding":{"x":{"datum":500,"type":"quantitative"},"x2":{"datum":4000},"y":{"datum":0,"type":"quantitative"}}
},
{
"mark":{"type":"rule","color":"#111","strokeWidth":2},
"encoding":{"x":{"datum":500,"type":"quantitative"},"y":{"datum":0,"type":"quantitative"},"y2":{"datum":100}}
},
{
"mark":{"type":"line","interpolate":"monotone","strokeWidth":1},
"encoding":{
"x":{"field":"wavenumber","type":"quantitative","scale":{"domain":[340,4000],"nice":false,"zero":false},
"axis":{"values":[500,1000,1500,2000,2500,3000,3500,4000],"format":"d","ticks":false,"domain":false,"grid":false,"labelFontSize":19,"labelPadding":17,"labelColor":"#222","labelFlush":false,"labelOverlap":false,"title":"Wavelength (cm-1)","titleFontSize":22,"titleFontWeight":"normal","titleColor":"#222","titlePadding":14}},
"y":{"field":"transmittance","type":"quantitative","scale":{"domain":[0,100],"nice":false},
"axis":{"labels":false,"ticks":false,"domain":false,"grid":false,"title":"Transmittance (%)","titleFontSize":21,"titleFontWeight":"normal","titleColor":"#222","titlePadding":10}},
"color":{"field":"series","type":"nominal",
"scale":{"domain":["Alginate","CMC","Tragacanth","Aloe"],"range":["#d84848","#9a3a9a","#1f3d1f","#6ccc6c"]},
"legend":{"orient":"none","legendX":182,"legendY":-52,"direction":"horizontal","columns":4,"columnPadding":13,"title":null,"symbolType":"stroke","symbolSize":3025,"symbolStrokeWidth":1.5,"symbolOpacity":0.5,"labelFontSize":24,"labelOffset":6,"labelLimit":300,
"labelColor":{"expr":"datum.value === 'Alginate' ? '#d0101c' : datum.value === 'CMC' ? '#880088' : datum.value === 'Tragacanth' ? '#145a24' : '#36c048'"}}}
}
}
]
}
],
"spacing":42,
"resolve":{"scale":{"color":"independent","x":"independent","y":"independent"},"legend":{"color":"independent"}}
}
